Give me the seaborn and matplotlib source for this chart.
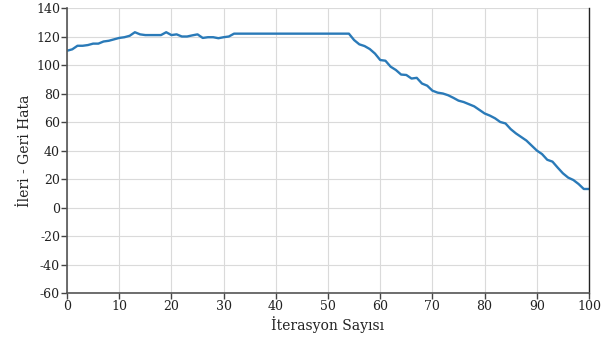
import matplotlib
matplotlib.use("Agg")
import matplotlib.pyplot as plt
import seaborn as sns
import pandas as pd

iterations = list(range(0, 101))
error_values = [
    110, 111, 113.5, 113.5, 114, 115, 115, 116.5, 117, 118,
    119, 119.5, 120.5, 123, 121.5, 121, 121, 121, 121, 123,
    121, 121.5, 120, 120, 120.8, 121.5, 119, 119.5, 119.5, 118.8,
    119.5, 120, 122, 122, 122, 122, 122, 122, 122, 122,
    122, 122, 122, 122, 122, 122, 122, 122, 122, 122,
    122, 122, 122, 122, 122, 117.5, 114.5, 113.3, 111.2, 108,
    103.5, 103, 98.8, 96.5, 93.3, 93, 90.5, 91, 87, 85.5,
    82, 80.6, 80, 78.8, 77, 75, 74, 72.5, 71, 68.5,
    66, 64.5, 62.6, 60, 59, 55, 52, 49.5, 47, 43.5,
    40, 37.5, 33.5, 32.2, 28, 24, 21, 19.3, 16.5, 13,
    13,
]
x_ticks = list(range(0, 101, 10))
y_ticks = list(range(-60, 141, 20))
x_label = "İterasyon Sayısı"
y_label = "İleri - Geri Hata"

df = pd.DataFrame({"iter": iterations, "err": error_values})

sns.set_theme(style="whitegrid")
plt.rcParams["font.family"] = ["DejaVu Serif"]
plt.rcParams["axes.unicode_minus"] = False

fig = plt.figure(figsize=(6.11, 3.45), dpi=100)
ax = fig.add_axes([0.1097, 0.1507, 0.8543, 0.8261])

sns.lineplot(data=df, x="iter", y="err", ax=ax, color="#2a7ab8", linewidth=1.7)

ax.set_xlim(0, 100)
ax.set_ylim(-60, 140)
ax.set_xticks(x_ticks)
ax.set_yticks(y_ticks)
ax.grid(True, color="#dadada", linewidth=0.8)
ax.set_axisbelow(True)

for side in ["left", "bottom"]:
    ax.spines[side].set_color("#555555")
    ax.spines[side].set_linewidth(1.2)
for side in ["right", "top"]:
    ax.spines[side].set_color("#222222")
    ax.spines[side].set_linewidth(1.0)
ax.spines["top"].set_visible(False)

ax.tick_params(axis="both", which="major", direction="out", length=4, width=1,
               color="#444444", labelsize=9, labelcolor="#222222", pad=1,
               left=True, bottom=True)
ax.set_xlabel(x_label, fontsize=10, color="#222222", labelpad=2)
ax.set_ylabel(y_label, fontsize=10, color="#222222", labelpad=3)

fig.savefig("out.png", dpi=100)
